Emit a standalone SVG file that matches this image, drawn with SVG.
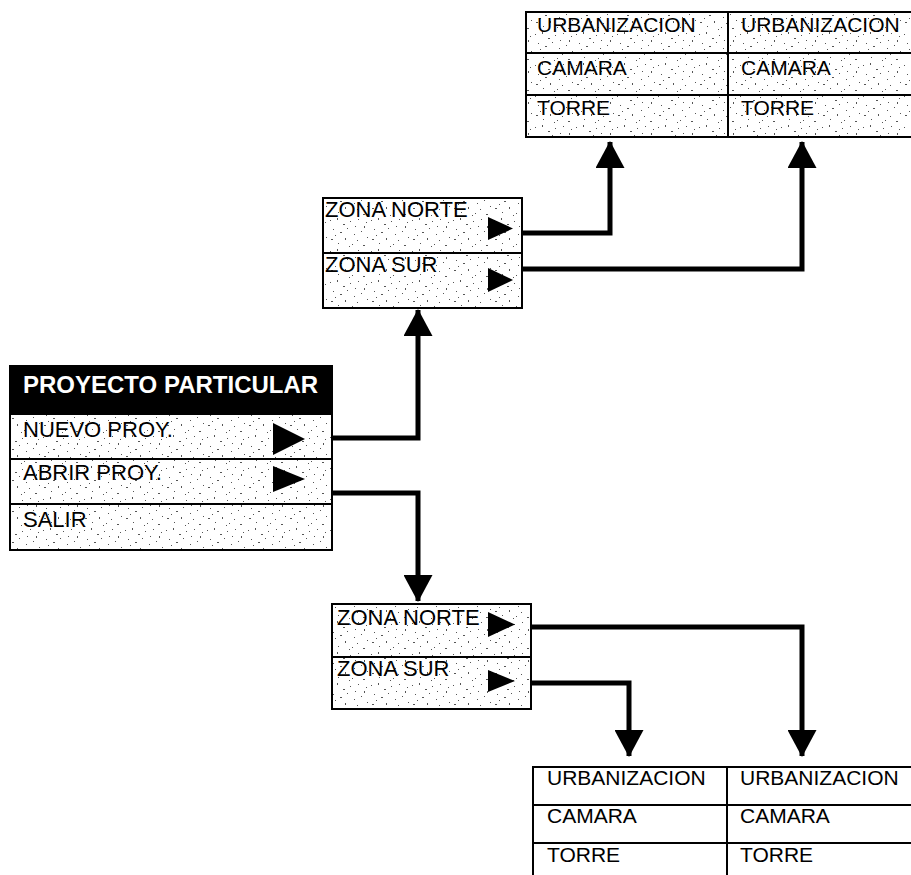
<svg xmlns="http://www.w3.org/2000/svg" width="911" height="875" viewBox="0 0 911 875">
  <style>
    .box { fill: url(#stipple); stroke: #000; stroke-width: 2; }
    .plain { fill: #fff; stroke: #000; stroke-width: 2; }
    .sep { stroke: #000; stroke-width: 2; }
    .lbl { font-family: "Liberation Sans", Arial, sans-serif; font-size: 21px; fill: #000; }
    .item { font-family: "Liberation Sans", Arial, sans-serif; font-size: 22px; fill: #000; }
    .head { font-family: "Liberation Sans", Arial, sans-serif; font-size: 24px; font-weight: bold; fill: #fff; }
    .tri { fill: #000; }
    .conn { fill: none; stroke: #000; stroke-width: 5; stroke-linejoin: miter; }
  </style>
  <defs>
    <!-- grainy screen-tone fill used by the menu panels -->
    <pattern id="stipple" width="41" height="31" patternUnits="userSpaceOnUse">
      <rect width="41" height="31" fill="#fff"/>
      <g fill="#555">
        <rect x="2" y="3" width="1" height="1"/><rect x="9" y="1" width="1" height="2"/>
        <rect x="15" y="7" width="2" height="1"/><rect x="22" y="4" width="1" height="1"/>
        <rect x="30" y="2" width="1" height="1"/><rect x="36" y="9" width="1" height="2"/>
        <rect x="5" y="12" width="1" height="1"/><rect x="12" y="15" width="2" height="1"/>
        <rect x="19" y="11" width="1" height="1"/><rect x="26" y="17" width="1" height="1"/>
        <rect x="33" y="14" width="1" height="1"/><rect x="39" y="20" width="1" height="1"/>
        <rect x="3" y="22" width="2" height="1"/><rect x="10" y="26" width="1" height="1"/>
        <rect x="17" y="21" width="1" height="2"/><rect x="24" y="27" width="1" height="1"/>
        <rect x="29" y="23" width="1" height="1"/><rect x="35" y="28" width="2" height="1"/>
        <rect x="7" y="18" width="1" height="1"/><rect x="21" y="29" width="1" height="1"/>
        <rect x="38" y="5" width="1" height="1"/><rect x="27" y="9" width="1" height="1"/>
      </g>
    </pattern>
    <marker id="head" viewBox="0 0 27 29" refX="26" refY="14.5" markerWidth="27" markerHeight="29" markerUnits="userSpaceOnUse" orient="auto">
      <path d="M0,0 L27,14.5 L0,29 Z" fill="#000"/>
    </marker>
  </defs>

  <!-- connectors -->
  <g id="connectors">
    <path class="conn" d="M325,438 H418 V310" marker-end="url(#head)"/>
    <path class="conn" d="M325,493 H418 V601" marker-end="url(#head)"/>
    <path class="conn" d="M520,233 H610 V142" marker-end="url(#head)"/>
    <path class="conn" d="M520,269 H802 V142" marker-end="url(#head)"/>
    <path class="conn" d="M529,627 H802 V756" marker-end="url(#head)"/>
    <path class="conn" d="M529,683 H629 V756" marker-end="url(#head)"/>
  </g>

  <!-- main menu -->
  <g id="menu-proyecto">
    <rect class="box" x="10" y="366" width="322" height="184"/>
    <rect x="10" y="366" width="322" height="49" fill="#000"/>
    <line class="sep" x1="10" y1="459" x2="332" y2="459"/>
    <line class="sep" x1="10" y1="504" x2="332" y2="504"/>
    <text class="head" x="23" y="393">PROYECTO PARTICULAR</text>
    <text class="item" x="23" y="437">NUEVO PROY.</text>
    <text class="item" x="23" y="480">ABRIR PROY.</text>
    <text class="item" x="23" y="527">SALIR</text>
    <polygon class="tri" points="273,423 305,439 273,455"/>
    <polygon class="tri" points="273,466 305,479 273,492"/>
  </g>

  <!-- zone submenu for new project -->
  <g id="zonas-nuevo">
    <rect class="box" x="323" y="198" width="199" height="110"/>
    <line class="sep" x1="323" y1="253" x2="522" y2="253"/>
    <text class="item" x="325" y="217">ZONA NORTE</text>
    <text class="item" x="325" y="272">ZONA SUR</text>
    <polygon class="tri" points="488,217 513,228.5 488,240"/>
    <polygon class="tri" points="488,268 513,280 488,292"/>
  </g>

  <!-- zone submenu for open project -->
  <g id="zonas-abrir">
    <rect class="box" x="332" y="604" width="199" height="105"/>
    <line class="sep" x1="332" y1="657" x2="531" y2="657"/>
    <text class="item" x="337" y="625">ZONA NORTE</text>
    <text class="item" x="337" y="676">ZONA SUR</text>
    <polygon class="tri" points="488,612 515,624.5 488,637"/>
    <polygon class="tri" points="488,670 515,681 488,692"/>
  </g>

  <!-- element tables, new project -->
  <g id="tabla-nuevo">
    <rect class="box" x="526" y="12" width="395" height="125"/>
    <line class="sep" x1="526" y1="53" x2="911" y2="53"/>
    <line class="sep" x1="526" y1="95" x2="911" y2="95"/>
    <line class="sep" x1="728" y1="12" x2="728" y2="137"/>
    <text class="lbl" x="537" y="32">URBANIZACION</text>
    <text class="lbl" x="537" y="75">CAMARA</text>
    <text class="lbl" x="537" y="115">TORRE</text>
    <text class="lbl" x="741" y="32">URBANIZACION</text>
    <text class="lbl" x="741" y="75">CAMARA</text>
    <text class="lbl" x="741" y="115">TORRE</text>
  </g>

  <!-- element tables, open project -->
  <g id="tabla-abrir">
    <rect class="plain" x="533" y="767" width="390" height="120"/>
    <line class="sep" x1="533" y1="805" x2="911" y2="805"/>
    <line class="sep" x1="533" y1="843" x2="911" y2="843"/>
    <line class="sep" x1="727" y1="767" x2="727" y2="875"/>
    <text class="lbl" x="547" y="785">URBANIZACION</text>
    <text class="lbl" x="547" y="823">CAMARA</text>
    <text class="lbl" x="547" y="862">TORRE</text>
    <text class="lbl" x="740" y="785">URBANIZACION</text>
    <text class="lbl" x="740" y="823">CAMARA</text>
    <text class="lbl" x="740" y="862">TORRE</text>
  </g>
</svg>
